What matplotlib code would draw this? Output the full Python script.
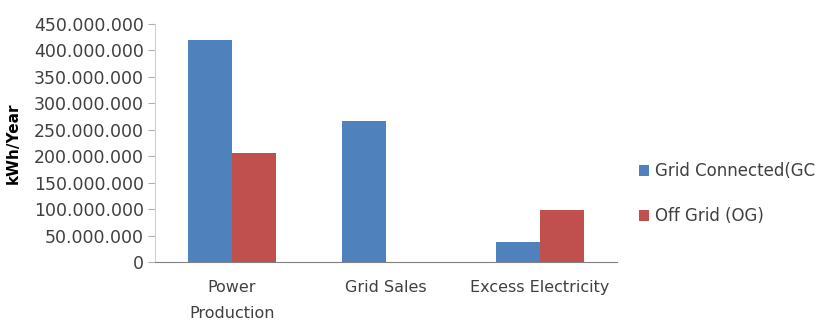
import numpy as np
import matplotlib.pyplot as plt
from matplotlib.ticker import FuncFormatter

categories = ["Power\nProduction", "Grid Sales", "Excess Electricity"]
grid_connected = [420e6, 267e6, 38e6]
off_grid = [207e6, 0, 98e6]
series_names = ["Grid Connected(GC", "Off Grid (OG)"]

plt.rcParams['font.family'] = ['DejaVu Sans']
txt = '#404040'

fig = plt.figure(figsize=(8.16, 3.33), dpi=100)
ax = fig.add_axes([0.19, 0.213, 0.566, 0.715])

x = np.arange(len(categories))
w = 0.286
ax.bar(x - w/2, grid_connected, w, color='#4F81BD', label=series_names[0])
ax.bar(x + w/2, off_grid, w, color='#C0504D', label=series_names[1])

ax.set_xlim(-0.5, 2.5)
ax.set_ylim(0, 450e6)
ax.set_yticks(np.arange(0, 450e6 + 1, 50e6))
ax.yaxis.set_major_formatter(FuncFormatter(lambda v, p: f"{int(v):,}".replace(",", ".")))
ax.set_xticks(x)
ax.set_xticklabels(categories, color=txt, fontsize=11.5, linespacing=1.9)
ax.tick_params(axis='y', colors='#b0b0b0', labelcolor=txt, labelsize=12.5, length=5, pad=3)
ax.tick_params(axis='x', length=0, pad=13)
for s in ['top', 'right']:
    ax.spines[s].set_visible(False)
ax.spines['left'].set_color('#d0d0d0')
ax.spines['bottom'].set_color('#808080')
ax.set_ylabel("kWh/Year", fontweight='bold', fontsize=11, color='black')
ax.yaxis.set_label_coords(-0.29, 0.5)

fig.legend(loc='center left', bbox_to_anchor=(0.765, 0.418), frameon=False,
           handlelength=0.6, handleheight=0.6, handletextpad=0.35,
           labelspacing=1.6, fontsize=12, labelcolor=txt)

fig.savefig("out.png", dpi=100)
